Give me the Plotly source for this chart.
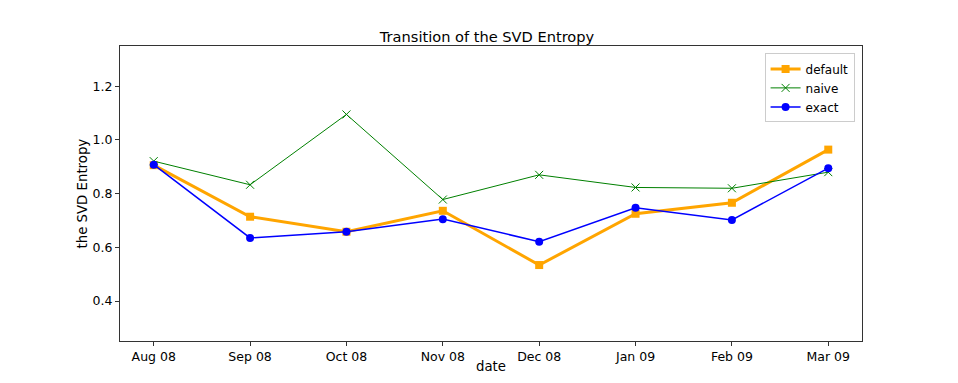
import plotly.graph_objects as go

months = ["Aug 08", "Sep 08", "Oct 08", "Nov 08", "Dec 08", "Jan 09", "Feb 09", "Mar 09"]
default_vals = [0.906, 0.714, 0.658, 0.736, 0.534, 0.725, 0.766, 0.964]
naive_vals = [0.921, 0.833, 1.095, 0.778, 0.870, 0.823, 0.820, 0.880]
exact_vals = [0.908, 0.635, 0.658, 0.705, 0.621, 0.747, 0.702, 0.895]
y_ticks = [0.4, 0.6, 0.8, 1.0, 1.2]

x = list(range(len(months)))

fig = go.Figure()
fig.add_trace(go.Scatter(x=x, y=default_vals, name="default", mode="lines+markers",
                         line=dict(color="orange", width=3),
                         marker=dict(symbol="square", size=8, color="orange")))
fig.add_trace(go.Scatter(x=x, y=naive_vals, name="naive", mode="lines+markers",
                         line=dict(color="green", width=1),
                         marker=dict(symbol="x-thin", size=8, line=dict(color="green", width=1))))
fig.add_trace(go.Scatter(x=x, y=exact_vals, name="exact", mode="lines+markers",
                         line=dict(color="blue", width=1.5),
                         marker=dict(symbol="circle", size=8, color="blue")))

axis_style = dict(showline=True, linecolor="#333", linewidth=1, mirror=True,
                  ticks="outside", ticklen=4, tickcolor="#333", showgrid=False, zeroline=False,
                  tickfont=dict(size=12.5, color="black"))

# plot area is 742x295 px; the page body adds an 8px offset, so margins compensate
plot_w, plot_h = 742, 295

fig.update_layout(
    width=958, height=383,
    margin=dict(l=112, r=104, t=38, b=50),
    paper_bgcolor="white", plot_bgcolor="white",
    font=dict(family="DejaVu Sans", size=12.5, color="black"),
    title=dict(text="Transition of the SVD Entropy", x=0.5, xanchor="center",
               y=1 - 29 / 383, yanchor="middle", font=dict(size=14.6)),
    xaxis=dict(range=[-0.35, 7.35], tickvals=x, ticktext=months, **axis_style),
    yaxis=dict(range=[0.251, 1.350], tickvals=y_ticks, ticktext=[f"{v:.1f}" for v in y_ticks],
               **axis_style),
    legend=dict(x=0.99, y=0.975, xanchor="right", yanchor="top",
                bgcolor="rgba(255,255,255,0.8)", bordercolor="#ccc", borderwidth=1,
                font=dict(size=12), tracegroupgap=0, itemwidth=30),
    showlegend=True,
)

# axis titles placed as annotations to match their exact positions
fig.add_annotation(text="date", xref="paper", yref="paper", x=0.5, y=-25 / plot_h,
                   xanchor="center", yanchor="middle", showarrow=False, font=dict(size=13.3))
fig.add_annotation(text="the SVD Entropy", xref="paper", yref="paper", x=-38 / plot_w, y=0.5,
                   xanchor="center", yanchor="middle", textangle=-90, showarrow=False,
                   font=dict(size=13.3))

fig.write_html("out.html")
